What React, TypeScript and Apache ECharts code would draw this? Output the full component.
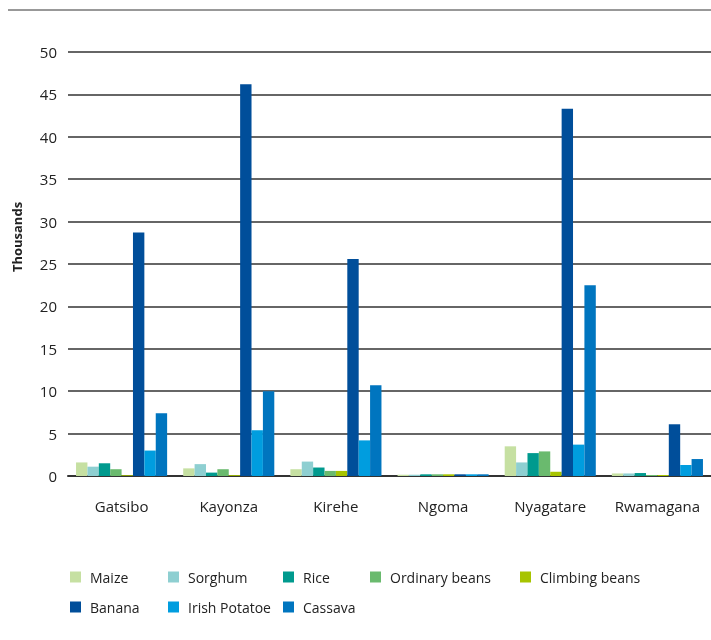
import React, { useEffect, useRef } from "react";
import * as echarts from "echarts";

const districts = ["Gatsibo", "Kayonza", "Kirehe", "Ngoma", "Nyagatare", "Rwamagana"];
const crops = ["Maize", "Sorghum", "Rice", "Ordinary beans", "Climbing beans", "Banana", "Irish Potatoe", "Cassava"];
const colors = ["#c6e0a2", "#8ecfd1", "#009a8e", "#6aba6e", "#a7c400", "#004e9a", "#009ddf", "#0075bf"];

const maize = [1.6, 0.9, 0.8, 0.15, 3.5, 0.3];
const sorghum = [1.1, 1.4, 1.7, 0.15, 1.6, 0.3];
const rice = [1.5, 0.4, 1.0, 0.2, 2.7, 0.35];
const ordinaryBeans = [0.8, 0.8, 0.6, 0.2, 2.9, 0.12];
const climbingBeans = [0.1, 0.1, 0.6, 0.2, 0.5, 0.12];
const banana = [28.7, 46.2, 25.6, 0.2, 43.3, 6.1];
const irishPotatoe = [3.0, 5.4, 4.2, 0.2, 3.7, 1.3];
const cassava = [7.4, 10.0, 10.7, 0.2, 22.5, 2.0];

const seriesValues = [maize, sorghum, rice, ordinaryBeans, climbingBeans, banana, irishPotatoe, cassava];
const yTicks = { min: 0, max: 50, interval: 5 };

const legendPos = [
  [70, 570], [168, 570], [283, 570], [370, 570], [520, 570],
  [70, 600], [168, 600], [283, 600],
];

const FONT = "'Open Sans', sans-serif";

export default function App() {
  const ref = useRef<HTMLDivElement>(null);
  useEffect(() => {
    if (!ref.current) return;
    const chart = echarts.init(ref.current, null, { renderer: "svg" });
    chart.setOption({
      animation: false,
      textStyle: { fontFamily: FONT },
      color: colors,
      grid: { left: 68, right: 0, top: 52, bottom: 164, containLabel: false },
      legend: crops.map((c, i) => ({
        data: [c],
        left: legendPos[i][0],
        top: legendPos[i][1],
        icon: "rect",
        itemWidth: 11,
        itemHeight: 11,
        padding: 0,
        selectedMode: false,
        textStyle: { fontSize: 14, color: "#222", fontFamily: FONT, padding: [0, 0, 0, 4] },
      })),
      xAxis: {
        type: "category",
        data: districts,
        axisLine: { lineStyle: { color: "#333", width: 2 } },
        axisTick: { show: false },
        axisLabel: { interval: 0, fontSize: 15, color: "#222", margin: 22, fontFamily: FONT },
      },
      yAxis: {
        type: "value",
        min: yTicks.min,
        max: yTicks.max,
        interval: yTicks.interval,
        axisLine: { show: false },
        axisTick: { show: false },
        axisLabel: { fontSize: 15, color: "#222", margin: 11, fontFamily: FONT },
        splitLine: { lineStyle: { color: "#333", width: 1.5 } },
      },
      graphic: [
        { type: "line", shape: { x1: 8, y1: 10, x2: 711, y2: 10 }, style: { stroke: "#333", lineWidth: 1 } },
        {
          type: "text",
          x: 17,
          y: 237,
          rotation: Math.PI / 2,
          style: { text: "Thousands", fontSize: 13, fontWeight: "bold", fill: "#222", fontFamily: FONT, align: "center", verticalAlign: "middle" },
        },
      ],
      series: crops.map((c, i) => ({
        name: c,
        type: "bar",
        data: seriesValues[i],
        barGap: "0%",
        barCategoryGap: "15%",
        itemStyle: { color: colors[i] },
      })),
    });
    return () => chart.dispose();
  }, []);
  return <div ref={ref} style={{ position: "fixed", left: 0, top: 0, width: 711, height: 640 }} />;
}
